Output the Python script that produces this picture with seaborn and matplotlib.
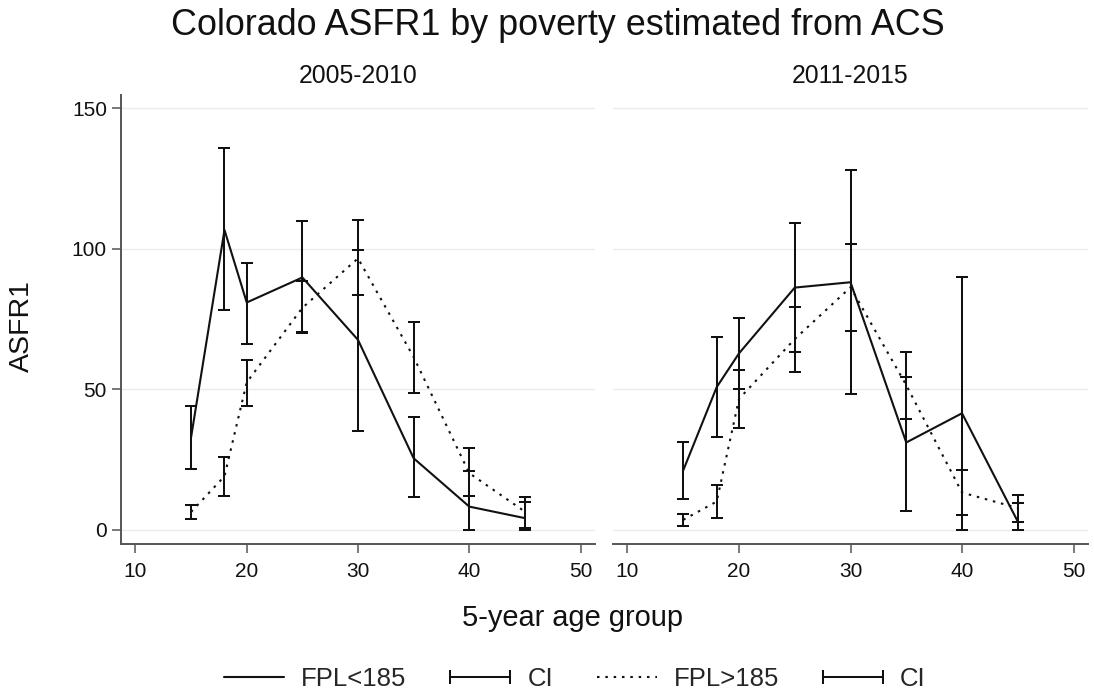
import numpy as np
import pandas as pd
import matplotlib
matplotlib.use("Agg")
import matplotlib.pyplot as plt
import seaborn as sns
from matplotlib.lines import Line2D

# ---------------- data ----------------
periods = ["2005-2010", "2011-2015"]
groups = ["FPL<185", "FPL>185"]
ages = [15, 18, 20, 25, 30, 35, 40, 45]

# 2005-2010
asfr_low_0510 = [33.0, 106.7, 80.9, 89.8, 67.6, 25.5, 8.3, 4.2]
lo_low_0510 = [21.6, 78.3, 66.1, 70.2, 35.3, 11.6, 0.0, 0.0]
hi_low_0510 = [44.1, 135.8, 95.1, 109.9, 99.6, 40.0, 20.8, 9.8]

asfr_high_0510 = [6.4, 19.1, 52.5, 79.0, 96.6, 61.5, 20.2, 6.5]
lo_high_0510 = [3.8, 12.1, 44.1, 70.5, 83.6, 48.6, 12.1, 0.8]
hi_high_0510 = [8.9, 26.1, 60.5, 88.5, 110.3, 73.8, 29.1, 11.6]

# 2011-2015
asfr_low_1115 = [21.2, 50.8, 62.8, 86.2, 88.1, 31.1, 41.5, 3.0]
lo_low_1115 = [10.9, 33.2, 50.2, 63.2, 48.4, 6.9, 0.0, 0.0]
hi_low_1115 = [31.2, 68.8, 75.3, 109.3, 128.1, 54.5, 89.9, 9.5]

asfr_high_1115 = [3.6, 10.1, 46.6, 67.9, 86.3, 51.5, 13.3, 7.8]
lo_high_1115 = [1.5, 4.2, 36.2, 56.3, 70.9, 39.5, 5.3, 2.7]
hi_high_1115 = [5.7, 16.0, 56.9, 79.4, 101.7, 63.2, 21.3, 12.5]

series = {
    ("2005-2010", "FPL<185"): (asfr_low_0510, lo_low_0510, hi_low_0510),
    ("2005-2010", "FPL>185"): (asfr_high_0510, lo_high_0510, hi_high_0510),
    ("2011-2015", "FPL<185"): (asfr_low_1115, lo_low_1115, hi_low_1115),
    ("2011-2015", "FPL>185"): (asfr_high_1115, lo_high_1115, hi_high_1115),
}

rows = []
for (per, grp), (mid, lo, hi) in series.items():
    for a, m, l, h in zip(ages, mid, lo, hi):
        rows.append({"period": per, "group": grp, "age": a, "asfr": m, "lo": l, "hi": h})
df = pd.DataFrame(rows)

title = "Colorado ASFR1 by poverty estimated from ACS"
xlabel = "5-year age group"
ylabel = "ASFR1"
xticks = [10, 20, 30, 40, 50]
yticks = [0, 50, 100, 150]
legend_labels = ["FPL<185", "CI", "FPL>185", "CI"]

# ---------------- style ----------------
sns.set_theme(style="white")
plt.rcParams["font.family"] = ["Liberation Sans", "DejaVu Sans"]

W, H = 1094, 698
fig = plt.figure(figsize=(W / 100, H / 100), dpi=100)

ax_top, ax_bot = 95, 544
axes_px = [(121, 595), (613, 1088)]
axes = []
for i, (l, r) in enumerate(axes_px):
    kw = {} if i == 0 else {"sharey": axes[0]}
    ax = fig.add_axes([l / W, 1 - ax_bot / H, (r - l) / W, (ax_bot - ax_top) / H], **kw)
    axes.append(ax)

ink = "#111111"
spine_c = "#555555"
dots = (1.2, 2.8)
lw_line = 1.5
lw_err = 1.45

for ax, per in zip(axes, periods):
    sub = df[df["period"] == per]
    sns.lineplot(data=sub, x="age", y="asfr", style="group", style_order=groups,
                 dashes={"FPL<185": "", "FPL>185": dots}, color=ink,
                 linewidth=lw_line, estimator=None, errorbar=None, legend=False,
                 sort=True, ax=ax)
    for grp in groups:
        g = sub[sub["group"] == grp]
        mid = g["asfr"].to_numpy()
        yerr = np.vstack([mid - g["lo"].to_numpy(), g["hi"].to_numpy() - mid])
        ax.errorbar(g["age"], mid, yerr=yerr, fmt="none", ecolor=ink,
                    elinewidth=lw_err, capsize=4, capthick=lw_err, zorder=3)

    ax.set_xlim(8.7, 51.3)
    ax.set_ylim(-5, 154.7)
    ax.set_xticks(xticks)
    ax.set_yticks(yticks)
    ax.yaxis.grid(True, color="#ebebeb", linewidth=1.0)
    ax.xaxis.grid(False)
    ax.set_axisbelow(True)
    ax.set_xlabel("")
    ax.set_ylabel("")
    ax.set_title(per, fontsize=17.8, pad=8.4, color=ink)
    for s in ["top", "right"]:
        ax.spines[s].set_visible(False)
    ax.spines["bottom"].set_color(spine_c)
    ax.spines["bottom"].set_linewidth(1.4)
    ax.spines["left"].set_color(spine_c)
    ax.spines["left"].set_linewidth(1.4)
    ax.tick_params(axis="both", direction="out", length=6.5, width=1.1,
                   color=spine_c, labelsize=15, labelcolor=ink)
    ax.tick_params(axis="x", pad=6.3, bottom=True)
    ax.tick_params(axis="y", pad=3.6, left=True)
    ax.set_facecolor("white")

axes[1].spines["left"].set_visible(False)
axes[1].tick_params(axis="y", left=False, labelleft=False)

fig.text(558 / W, 1 - 35 / H, title, ha="center", va="baseline", fontsize=25.8, color=ink)
fig.text(572 / W, 1 - 626 / H, xlabel, ha="center", va="baseline", fontsize=20.9, color=ink)
fig.text(22 / W, 1 - 326 / H, ylabel, ha="center", va="center", rotation=90,
         fontsize=20.5, color=ink)

handles = [
    Line2D([], [], color=ink, lw=lw_line),
    Line2D([], [], color=ink, lw=lw_err, marker="|", markersize=9.5, markeredgewidth=lw_err),
    Line2D([], [], color=ink, lw=lw_line, linestyle=(0, dots)),
    Line2D([], [], color=ink, lw=lw_err, marker="|", markersize=9.5, markeredgewidth=lw_err),
]
fig.legend(handles, legend_labels, loc="center", bbox_to_anchor=(571 / W, 1 - 679 / H),
           ncol=4, frameon=False, fontsize=18.5, numpoints=2,
           handlelength=2.93, handletextpad=0.36, columnspacing=1.41,
           borderaxespad=0, borderpad=0)

fig.savefig("out.png", dpi=100, facecolor="white")
